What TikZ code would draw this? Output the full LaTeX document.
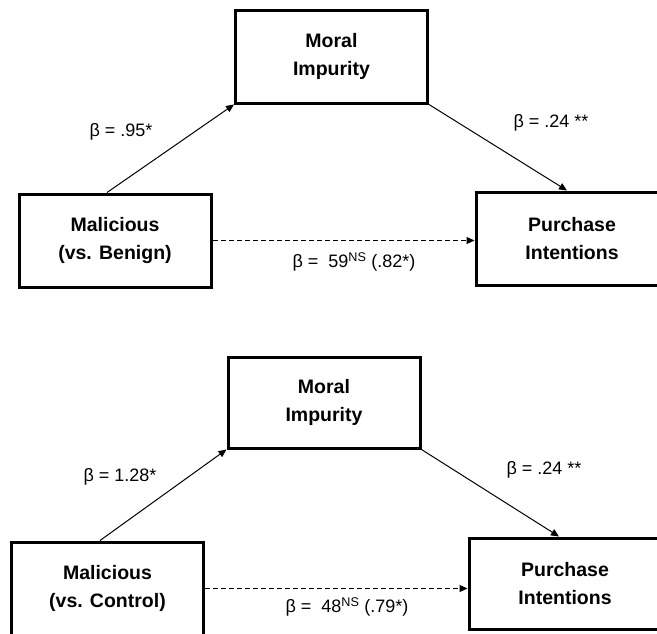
\documentclass[tikz,border=0pt]{standalone}
\usepackage{fontspec}
\setmainfont{Liberation Sans}
\usetikzlibrary{arrows.meta}
\begin{document}
\begin{tikzpicture}[x=1pt,y=-1pt,
  varbox/.style={draw, line width=3pt, minimum width=192pt, inner sep=0pt, align=center,
    font=\fontsize{19.5}{28.5}\selectfont\bfseries},
  lbl/.style={inner sep=0pt, font=\fontsize{18}{20}\selectfont},
  conn/.style={line width=1pt, -{Triangle[length=8pt,width=7pt]}},
  dconn/.style={conn, dash pattern=on 5pt off 3pt}]
\useasboundingbox (0,0) rectangle (657,633);
% top diagram
\node[varbox, minimum height=93pt] (M1) at (331.5,56.5) {Moral\\Impurity};
\node[varbox, minimum height=93pt] (A1) at (115,240.5) {Malicious\\(vs. Benign)};
\node[varbox, minimum height=93pt] (P1) at (572,238.5) {Purchase\\Intentions};
\draw[conn] ([xshift=-8pt]A1.north) -- (M1.south west);
\draw[conn] (M1.south east) -- ([xshift=-5pt]P1.north);
\draw[dconn] (A1.east) -- (A1.east -| P1.west);
\node[lbl] (l1) at (121,132) {β = .95*};
\node[lbl] (l2) at (551,123) {β = .24 **};
\node[lbl] (l3) at (354,262) {β =\ \ 59\textsuperscript{NS} (.82*)};
% bottom diagram
\node[varbox, minimum height=91pt] (M2) at (324,402.5) {Moral\\Impurity};
\node[varbox, minimum height=93pt] (A2) at (107.5,588.5) {Malicious\\(vs. Control)};
\node[varbox, minimum height=91pt] (P2) at (565,583.5) {Purchase\\Intentions};
\draw[conn] ([xshift=-7.5pt]A2.north) -- (M2.south west);
\draw[conn] (M2.south east) -- ([xshift=-6pt]P2.north);
\draw[dconn] (A2.east) -- (A2.east -| P2.west);
\node[lbl] (l4) at (120,477) {β = 1.28*};
\node[lbl] (l5) at (544,470) {β = .24 **};
\node[lbl] (l6) at (347,607) {β =\ \ 48\textsuperscript{NS} (.79*)};
\end{tikzpicture}
\end{document}
